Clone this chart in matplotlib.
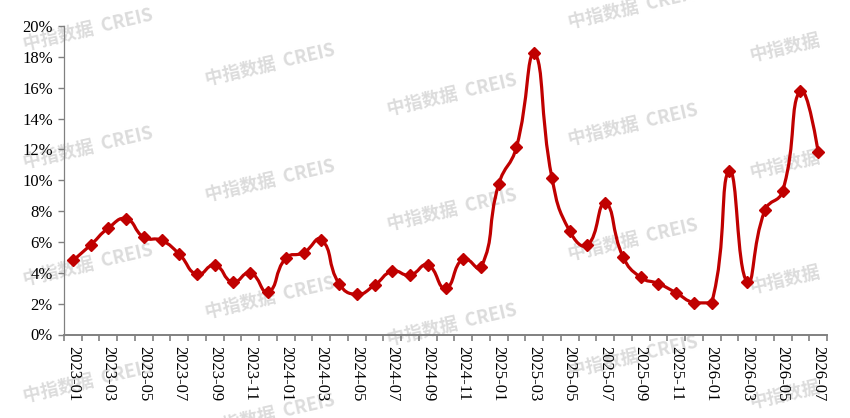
import matplotlib
matplotlib.use("Agg")
import matplotlib.pyplot as plt
from matplotlib.path import Path
from matplotlib.patches import PathPatch
from matplotlib.ticker import FixedLocator, FuncFormatter
import numpy as np
from math import hypot

# monthly labels 2023-01 .. 2026-07
months = [f"{y}-{m:02d}" for y in (2023, 2024, 2025, 2026) for m in range(1, 13)][:43]

# values in %
values = [4.8, 5.8, 6.9, 7.5, 6.3, 6.1, 5.2, 3.9, 4.5, 3.4, 4.0, 2.75,
          4.95, 5.3, 6.15, 3.3, 2.6, 3.2, 4.1, 3.85, 4.5, 3.0, 4.9, 4.35,
          9.75, 12.15, 18.25, 10.15, 6.7, 5.8, 8.5, 5.05, 3.7, 3.3, 2.7, 2.05,
          2.05, 10.6, 3.4, 8.05, 9.3, 15.8, 11.85]

y_ticks = list(range(0, 21, 2))

red = "#c00000"
grey = "#808080"

# watermark centres in figure pixels (x, y from top)
marks = [(88, 30), (88, 148), (88, 265), (88, 382),
         (270, 65), (270, 181), (270, 298), (270, 415),
         (452, 95), (452, 210), (452, 325),
         (633, 8), (633, 125), (633, 240), (633, 357)]
marks_short = [(785, 48), (785, 165), (785, 280), (785, 395)]


def smooth_path(xs, ys, sx, sy, smooth=0.5):
    # bezier smoothing like the old echarts line, clamped to the data bbox
    px = np.asarray(xs, float) * sx
    py = np.asarray(ys, float) * sy
    xmin, xmax = px.min(), px.max()
    ymin, ymax = py.min(), py.max()
    n = len(px)
    verts = [(px[0], py[0])]
    codes = [Path.MOVETO]
    cp0 = (px[0], py[0])
    for i in range(1, n):
        x, y = px[i], py[i]
        if i < n - 1:
            prx, pry = px[i - 1], py[i - 1]
            nx, ny = px[i + 1], py[i + 1]
            vx = (nx - prx) * smooth
            vy = (ny - pry) * smooth
            lp = hypot(x - prx, y - pry)
            ln = hypot(nx - x, ny - y)
            r = ln / (ln + lp)
            c1x = x - vx * (1 - r)
            c1y = y - vy * (1 - r)
            ncx = x + vx * r
            ncy = y + vy * r
        else:
            c1x, c1y = x, y
            ncx, ncy = x, y
        c0x = min(max(cp0[0], xmin), xmax)
        c0y = min(max(cp0[1], ymin), ymax)
        c1x = min(max(c1x, xmin), xmax)
        c1y = min(max(c1y, ymin), ymax)
        verts += [(c0x, c0y), (c1x, c1y), (x, y)]
        codes += [Path.CURVE4] * 3
        cp0 = (ncx, ncy)
    verts = [(a / sx, b / sy) for a, b in verts]
    return Path(verts, codes)


plt.rcParams['font.family'] = ['Liberation Serif', 'DejaVu Serif']

W, H = 850, 418
fig = plt.figure(figsize=(W / 100, H / 100), dpi=100)
fig.patch.set_facecolor("white")
ax = fig.add_axes([64 / W, 1 - 334.5 / H, (827 - 64) / W, (334.5 - 26) / H])
ax.patch.set_alpha(0)

for cx, cy in marks:
    fig.text(cx / W, 1 - cy / H, "中指数据  CREIS", ha="center", va="center",
             rotation=13, fontsize=13, color="#dcdcdc", fontweight="bold",
             family=["Noto Sans CJK SC", "DejaVu Sans"], zorder=-1)
for cx, cy in marks_short:
    fig.text(cx / W, 1 - cy / H, "中指数据", ha="center", va="center",
             rotation=13, fontsize=13, color="#dcdcdc", fontweight="bold",
             family=["Noto Sans CJK SC", "DejaVu Sans"], zorder=-1)

x = np.arange(len(values))
path = smooth_path(x, values, 17.74, 15.42)
ax.add_patch(PathPatch(path, facecolor="none", edgecolor=red, lw=2.3,
                       capstyle="round", joinstyle="round", zorder=3))
ax.plot(x, values, ls="none", marker="D", ms=6.5, color=red, zorder=4)

ax.set_xlim(-0.5, len(values) - 0.5)
ax.set_ylim(0, 20)

ax.set_yticks(y_ticks)
ax.yaxis.set_major_formatter(FuncFormatter(lambda v, p: f"{int(v)}%"))
ax.set_xticks(x[::2])
ax.set_xticklabels(months[::2], rotation=-90)
ax.xaxis.set_minor_locator(FixedLocator(np.arange(-0.5, len(values), 1)))

ax.tick_params(axis="x", which="major", length=0, pad=8.5, labelsize=12)
ax.tick_params(axis="x", which="minor", length=4.5, width=1.2, color=grey)
ax.tick_params(axis="y", length=4.5, width=1, color=grey, pad=3.5, labelsize=12)

for s in ("top", "right"):
    ax.spines[s].set_visible(False)
ax.spines["left"].set_color(grey)
ax.spines["left"].set_linewidth(0.9)
ax.spines["bottom"].set_color(grey)
ax.spines["bottom"].set_linewidth(1.4)

fig.savefig("out.png", dpi=100)
